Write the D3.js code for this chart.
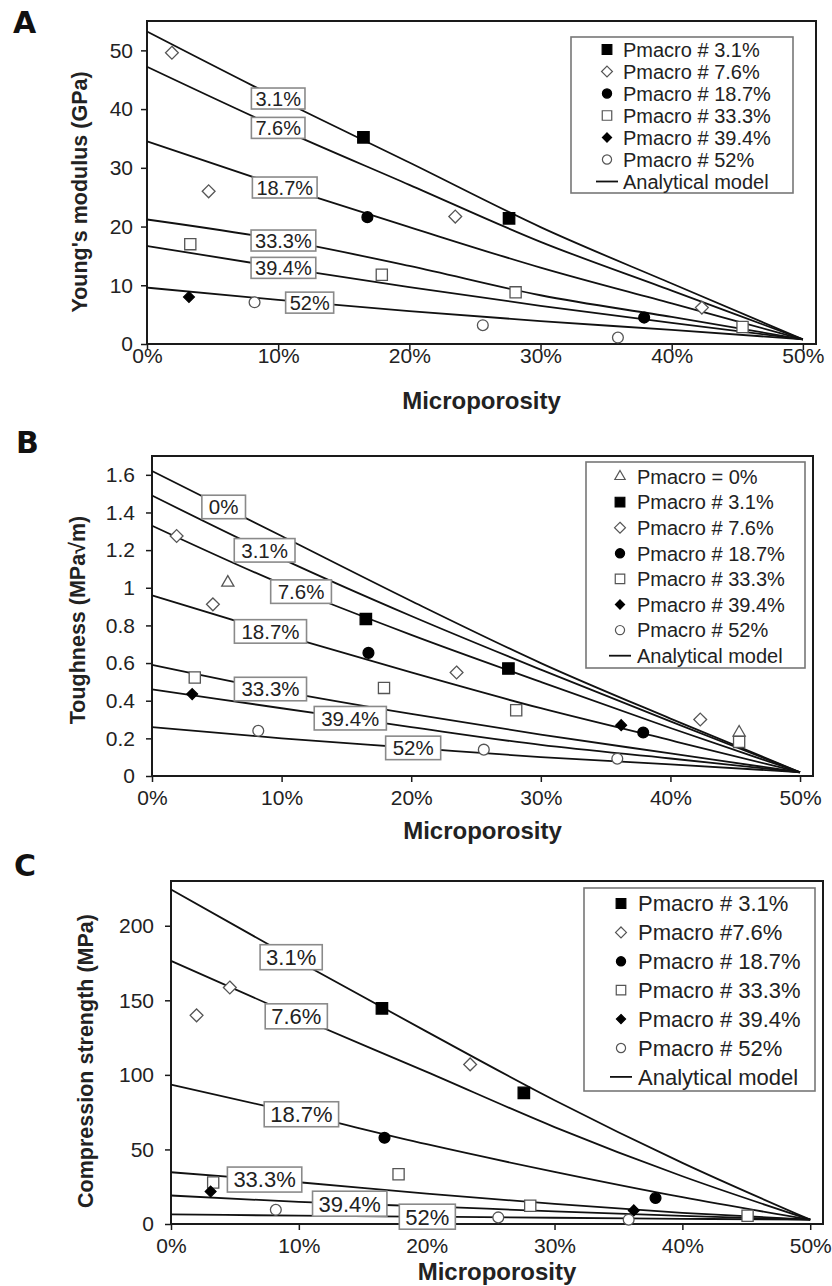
<!DOCTYPE html>
<html>
<head>
<meta charset="utf-8">
<script src="https://cdn.jsdelivr.net/npm/d3@7"></script>
<style>
  body { margin: 0; background: #fff; }
  svg { display: block; font-family: "Liberation Sans", Arial, sans-serif; }
</style>
</head>
<body>
<svg id="chart" width="832" height="1286"></svg>
<script>
const modelX = [0, 0.1, 0.2, 0.3, 0.4, 0.5];
const xTicks = [0, 0.1, 0.2, 0.3, 0.4, 0.5];

// A - Young's modulus (GPa)
const seriesA = ["3.1%", "7.6%", "18.7%", "33.3%", "39.4%", "52%"];
const youngModel = [
  [53.2, 41.8, 30.9, 19.9, 10.3, 0.8],
  [47.2, 36.8, 27.1, 17.4, 9.1, 0.8],
  [34.5, 27.0, 19.9, 13.0, 6.9, 0.8],
  [21.2, 17.8, 13.3, 8.3, 4.6, 0.8],
  [16.7, 13.1, 9.7, 6.5, 3.6, 0.8],
  [9.6, 7.5, 5.6, 3.9, 2.4, 0.8]
];
const youngPoints = [
  [[0.165, 35.2], [0.276, 21.4]],
  [[0.019, 49.6], [0.047, 26.0], [0.235, 21.7], [0.423, 6.2]],
  [[0.168, 21.6], [0.379, 4.5]],
  [[0.033, 17.0], [0.179, 11.8], [0.281, 8.8], [0.454, 2.9]],
  [[0.032, 8.0]],
  [[0.082, 7.1], [0.256, 3.2], [0.359, 1.1]]
];
const youngLabelAt = [0.100, 0.100, 0.105, 0.104, 0.104, 0.124];
const youngTicks = [0, 10, 20, 30, 40, 50];
const legendA = ["Pmacro # 3.1%", "Pmacro # 7.6%", "Pmacro # 18.7%", "Pmacro # 33.3%",
  "Pmacro # 39.4%", "Pmacro # 52%"];

// B - toughness
const seriesB = ["0%", "3.1%", "7.6%", "18.7%", "33.3%", "39.4%", "52%"];
const toughModel = [
  [1.62, 1.275, 0.93, 0.60, 0.305, 0.02],
  [1.49, 1.155, 0.85, 0.565, 0.29, 0.02],
  [1.33, 1.02, 0.75, 0.50, 0.255, 0.02],
  [0.96, 0.75, 0.55, 0.36, 0.19, 0.02],
  [0.59, 0.45, 0.33, 0.22, 0.12, 0.02],
  [0.46, 0.36, 0.26, 0.165, 0.093, 0.02],
  [0.26, 0.20, 0.15, 0.10, 0.062, 0.02]
];
const toughPoints = [
  [[0.0585, 1.027], [0.453, 0.231]],
  [[0.165, 0.834], [0.275, 0.571]],
  [[0.019, 1.275], [0.047, 0.912], [0.235, 0.55], [0.423, 0.30]],
  [[0.167, 0.654], [0.379, 0.231]],
  [[0.033, 0.523], [0.179, 0.468], [0.281, 0.349], [0.453, 0.181]],
  [[0.031, 0.435], [0.362, 0.27]],
  [[0.082, 0.24], [0.256, 0.14], [0.359, 0.092]]
];
const toughLabelAt = [0.0553, 0.0869, 0.115, 0.0914, 0.0914, 0.153, 0.2015];
const toughTicks = [0, 0.2, 0.4, 0.6, 0.8, 1, 1.2, 1.4, 1.6];
const legendB = ["Pmacro = 0%", "Pmacro # 3.1%", "Pmacro # 7.6%", "Pmacro # 18.7%",
  "Pmacro # 33.3%", "Pmacro # 39.4%", "Pmacro # 52%"];

// C - compression strength (MPa)
const seriesC = ["3.1%", "7.6%", "18.7%", "33.3%", "39.4%", "52%"];
const compModel = [
  [224.3, 176, 129, 83, 41, 2.9],
  [176.4, 138.5, 102, 65, 32, 2.9],
  [93.5, 74, 53.5, 35, 18, 2.9],
  [34.7, 28, 20.4, 13.5, 7.5, 2.9],
  [19.1, 14.8, 11.8, 8.5, 5.5, 2.9],
  [6.4, 5.6, 4.9, 4.2, 3.5, 2.9]
];
const compPoints = [
  [[0.165, 144.6], [0.276, 87.9]],
  [[0.020, 139.9], [0.046, 158.6], [0.234, 107.0]],
  [[0.167, 57.8], [0.379, 17.4]],
  [[0.033, 27.8], [0.178, 33.4], [0.281, 12.2], [0.451, 5.5]],
  [[0.031, 21.8], [0.362, 9.1]],
  [[0.082, 9.5], [0.256, 4.4], [0.358, 2.9]]
];
const compLabelAt = [0.094, 0.098, 0.102, 0.0732, 0.1398, 0.2005];
const compTicks = [0, 50, 100, 150, 200];
const legendC = ["Pmacro # 3.1%", "Pmacro #7.6%", "Pmacro # 18.7%", "Pmacro # 33.3%",
  "Pmacro # 39.4%", "Pmacro # 52%"];

// marker symbols
const symDiamond = {
  draw(ctx, size) {
    const r = Math.sqrt(size / 2);
    ctx.moveTo(0, -r); ctx.lineTo(r, 0); ctx.lineTo(0, r); ctx.lineTo(-r, 0); ctx.closePath();
  }
};
const symTriangle = {
  draw(ctx, size) {
    const s = Math.sqrt(size * 4 / Math.sqrt(3)), h = s * Math.sqrt(3) / 2;
    ctx.moveTo(0, -h * 2 / 3); ctx.lineTo(s / 2, h / 3); ctx.lineTo(-s / 2, h / 3); ctx.closePath();
  }
};
const markerStyle = {
  "0%":    { type: symTriangle, size: 64, fill: "#fff" },
  "3.1%":  { type: d3.symbolSquare, size: 130, fill: "#000" },
  "7.6%":  { type: symDiamond, size: 82, fill: "#fff" },
  "18.7%": { type: d3.symbolCircle, size: 92, fill: "#000" },
  "33.3%": { type: d3.symbolSquare, size: 125, fill: "#fff" },
  "39.4%": { type: symDiamond, size: 58, fill: "#000" },
  "52%":   { type: d3.symbolCircle, size: 92, fill: "#fff" }
};

const svg = d3.select("#chart");
const ink = "#1a1a1a";

function drawPanel(p) {
  const x = d3.scaleLinear().domain([0, 0.51]).range([p.left, p.right]);
  const y = d3.scaleLinear().domain([0, p.yMax]).range([p.bottom, p.top]);
  const g = svg.append("g");

  // axes
  g.append("g")
    .attr("transform", `translate(0,${p.bottom})`)
    .call(d3.axisBottom(x).tickValues(xTicks).tickFormat(d3.format(".0%"))
      .tickSize(6).tickSizeOuter(0).tickPadding(p.xPad))
    .call(a => a.select(".domain").remove());
  g.append("g")
    .attr("transform", `translate(${p.left},0)`)
    .call(d3.axisLeft(y).tickValues(p.yTicks).tickFormat(d3.format("~g"))
      .tickSize(6).tickSizeOuter(0).tickPadding(p.yPad))
    .call(a => a.select(".domain").remove());
  g.selectAll(".tick line").attr("stroke", ink).attr("stroke-width", 1.5);
  g.selectAll(".tick text").attr("font-size", 21).attr("fill", "#222")
    .attr("font-family", "Liberation Sans, Arial, sans-serif");

  // frame
  g.append("rect")
    .attr("x", p.left).attr("y", p.top)
    .attr("width", p.right - p.left).attr("height", p.bottom - p.top)
    .attr("fill", "none").attr("stroke", ink).attr("stroke-width", 2);

  // analytical model curves
  const line = d3.line()
    .x((d, i) => x(modelX[i]))
    .y(d => y(d))
    .curve(d3.curveMonotoneX);
  g.selectAll("path.model")
    .data(p.model)
    .join("path")
    .attr("class", "model")
    .attr("d", line)
    .attr("fill", "none")
    .attr("stroke", "#111")
    .attr("stroke-width", 1.8);

  // boxed curve labels
  p.series.forEach((s, i) => {
    const along = d3.scaleLinear().domain(modelX).range(p.model[i]);
    const cx = x(p.labelAt[i]), cy = y(along(p.labelAt[i]));
    const lg = g.append("g");
    const box = lg.append("rect");
    const t = lg.append("text")
      .attr("x", cx).attr("y", cy).attr("dy", "0.36em")
      .attr("text-anchor", "middle")
      .attr("font-size", p.boxFont)
      .attr("fill", "#222")
      .text(s);
    const w = t.node().getComputedTextLength() + 2 * p.boxPad;
    box.attr("x", cx - w / 2).attr("y", cy - p.boxH / 2)
      .attr("width", w).attr("height", p.boxH)
      .attr("fill", "#fff").attr("stroke", "#8a8a8a").attr("stroke-width", 1.6);
  });

  // measured points
  p.series.forEach((s, i) => {
    const st = markerStyle[s];
    g.selectAll(null)
      .data(p.points[i])
      .join("path")
      .attr("transform", d => `translate(${x(d[0])},${y(d[1])})`)
      .attr("d", d3.symbol().type(st.type).size(st.size))
      .attr("fill", st.fill)
      .attr("stroke", st.fill === "#000" ? "#000" : "#555")
      .attr("stroke-width", 1.3);
  });

  // legend
  const L = p.legend;
  const n = p.legendText.length + 1;
  g.append("rect")
    .attr("x", L.x0).attr("y", L.y0)
    .attr("width", L.x1 - L.x0).attr("height", L.y1 - L.y0)
    .attr("fill", "#fff").attr("stroke", "#777").attr("stroke-width", 1.6);
  const rows = p.legendText.map((txt, i) => ({ txt, s: p.series[i] }))
    .concat([{ txt: "Analytical model", s: null }]);
  const row = g.selectAll("g.lrow")
    .data(rows)
    .join("g")
    .attr("class", "lrow")
    .attr("transform", (d, i) => `translate(0,${L.row0 + i * L.step})`);
  row.filter(d => d.s)
    .append("path")
    .attr("transform", `translate(${L.mx},0)`)
    .attr("d", d => d3.symbol().type(markerStyle[d.s].type).size(markerStyle[d.s].size * 0.72)())
    .attr("fill", d => markerStyle[d.s].fill)
    .attr("stroke", d => markerStyle[d.s].fill === "#000" ? "#000" : "#555")
    .attr("stroke-width", 1.2);
  row.filter(d => !d.s)
    .append("line")
    .attr("x1", L.lx0).attr("x2", L.lx1)
    .attr("stroke", "#111").attr("stroke-width", 1.8);
  row.append("text")
    .attr("x", L.tx).attr("dy", "0.36em")
    .attr("font-size", L.font)
    .attr("fill", "#222")
    .text(d => d.txt);

  // axis titles
  g.append("text")
    .attr("x", (p.left + p.right) / 2).attr("y", p.xTitleY)
    .attr("text-anchor", "middle")
    .attr("font-size", 24).attr("font-weight", "bold").attr("fill", "#222")
    .text("Microporosity");
  g.append("text")
    .attr("transform", `translate(${p.yTitle[0]},${p.yTitle[1]}) rotate(-90)`)
    .attr("dy", "0.35em")
    .attr("text-anchor", "middle")
    .attr("font-size", 21.5).attr("font-weight", "bold").attr("fill", "#222")
    .text(p.yLabel);

  // panel letter
  svg.append("text")
    .attr("x", p.letterPos[0]).attr("y", p.letterPos[1])
    .attr("font-family", "DejaVu Sans, Verdana, sans-serif")
    .attr("font-size", 30).attr("font-weight", "bold").attr("fill", "#111")
    .text(p.letter);
}

drawPanel({
  letter: "A", letterPos: [13, 33],
  left: 147, right: 816, top: 21, bottom: 344, yMax: 55,
  yTicks: youngTicks, xPad: -2, yPad: 8,
  series: seriesA, model: youngModel, points: youngPoints, labelAt: youngLabelAt,
  boxFont: 20, boxPad: 4, boxH: 21,
  legendText: legendA,
  legend: { x0: 571, x1: 793, y0: 37, y1: 193, row0: 49.5, step: 22, mx: 607, tx: 623, lx0: 596, lx1: 618, font: 20 },
  xTitleY: 409, yTitle: [79, 192], yLabel: "Young's modulus (GPa)"
});

drawPanel({
  letter: "B", letterPos: [16, 453],
  left: 152, right: 813, top: 456, bottom: 776, yMax: 1.7,
  yTicks: toughTicks, xPad: 8, yPad: 11,
  series: seriesB, model: toughModel, points: toughPoints, labelAt: toughLabelAt,
  boxFont: 20.5, boxPad: 7, boxH: 23.5,
  legendText: legendB,
  legend: { x0: 586, x1: 805, y0: 462, y1: 668, row0: 476.5, step: 25.6, mx: 620, tx: 637, lx0: 609, lx1: 631, font: 20 },
  xTitleY: 839, yTitle: [77.5, 620], yLabel: "Toughness (MPa\u221Am)"
});

drawPanel({
  letter: "C", letterPos: [14, 876],
  left: 171, right: 823, top: 881, bottom: 1224, yMax: 230,
  yTicks: compTicks, xPad: 8, yPad: 11,
  series: seriesC, model: compModel, points: compPoints, labelAt: compLabelAt,
  boxFont: 22, boxPad: 6, boxH: 25,
  legendText: legendC,
  legend: { x0: 584, x1: 815, y0: 888, y1: 1091, row0: 903.5, step: 28.9, mx: 621, tx: 638, lx0: 610, lx1: 632, font: 22 },
  xTitleY: 1280, yTitle: [85, 1061], yLabel: "Compression strength (MPa)"
});
</script>
</body>
</html>
